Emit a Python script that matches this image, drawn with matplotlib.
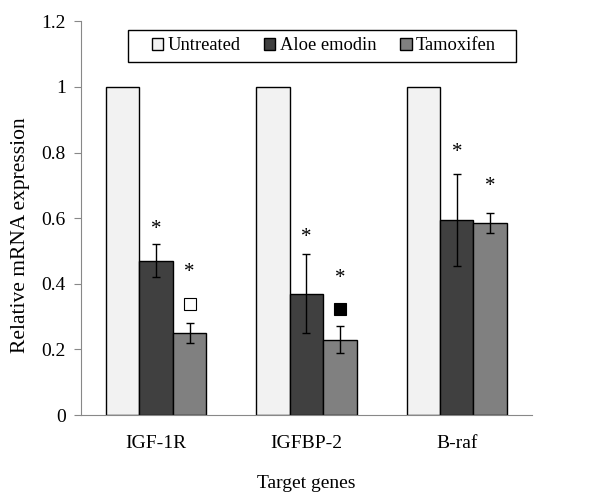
import numpy as np
import matplotlib.pyplot as plt
from matplotlib.patches import Rectangle

plt.rcParams['font.family'] = ['Liberation Serif', 'DejaVu Serif']

genes = ["IGF-1R", "IGFBP-2", "B-raf"]
untreated = [1.0, 1.0, 1.0]
aloe = [0.47, 0.37, 0.595]
aloe_err = [0.05, 0.12, 0.14]
tamox = [0.25, 0.23, 0.585]
tamox_err = [0.03, 0.04, 0.03]

# significance marks: (gene index, series offset, y)
stars = [(0, 0, 0.565), (0, 1, 0.435), (1, 0, 0.54), (1, 1, 0.415), (2, 0, 0.80), (2, 1, 0.695)]
boxes = [(0, 1, 0.338, "white"), (1, 1, 0.323, "black")]

fig = plt.figure(figsize=(6.11, 4.93), dpi=100)
ax = fig.add_axes([0.1326, 0.158, 0.738, 0.799])

x = np.arange(len(genes))
w = 0.222
ekw = dict(ecolor="black", elinewidth=1, capsize=3, capthick=1)
ax.bar(x - w, untreated, w, color="#f2f2f2", edgecolor="black", linewidth=1, label="Untreated")
ax.bar(x, aloe, w, color="#404040", edgecolor="black", linewidth=1, label="Aloe emodin",
       yerr=aloe_err, error_kw=ekw)
ax.bar(x + w, tamox, w, color="#808080", edgecolor="black", linewidth=1, label="Tamoxifen",
       yerr=tamox_err, error_kw=ekw)

for g, s, y in stars:
    ax.text(x[g] + s * w, y, "*", ha="center", va="center", fontsize=15)
for g, s, y, c in boxes:
    ax.plot(x[g] + s * w, y, marker="s", markersize=8, markerfacecolor=c,
            markeredgecolor="black", markeredgewidth=0.8, linestyle="none")

ax.set_xlim(-0.5, 2.5)
ax.set_ylim(0, 1.2)
ax.set_yticks([0, 0.2, 0.4, 0.6, 0.8, 1.0, 1.2])
ax.set_yticklabels(["0", "0.2", "0.4", "0.6", "0.8", "1", "1.2"])
ax.set_xticks(x)
ax.set_xticklabels(genes)
ax.tick_params(axis="both", labelsize=14, colors="#888888", labelcolor="black")
ax.tick_params(axis="x", length=0, pad=14)
ax.tick_params(axis="y", length=5, pad=6)
for sp in ["top", "right"]:
    ax.spines[sp].set_visible(False)
for sp in ["left", "bottom"]:
    ax.spines[sp].set_color("#888888")

ax.set_ylabel("Relative mRNA expression", fontsize=15.5, va="center")
ax.yaxis.set_label_coords(-0.135, 0.457)
ax.set_xlabel("Target genes", fontsize=14, va="center")
ax.xaxis.set_label_coords(0.5, -0.173)

# legend frame drawn separately so its padding matches
fig.patches.append(Rectangle((0.2095, 0.874), 0.635, 0.0649, transform=fig.transFigure,
                             facecolor="white", edgecolor="black", linewidth=1, zorder=3))
leg = fig.legend(*ax.get_legend_handles_labels(), loc="center", ncol=3, fontsize=13.3,
                 frameon=False, handlelength=0.6, handleheight=0.6, handletextpad=0.25,
                 columnspacing=1.3, bbox_to_anchor=(0.530, 0.9067))

fig.savefig("out.png", dpi=100)
